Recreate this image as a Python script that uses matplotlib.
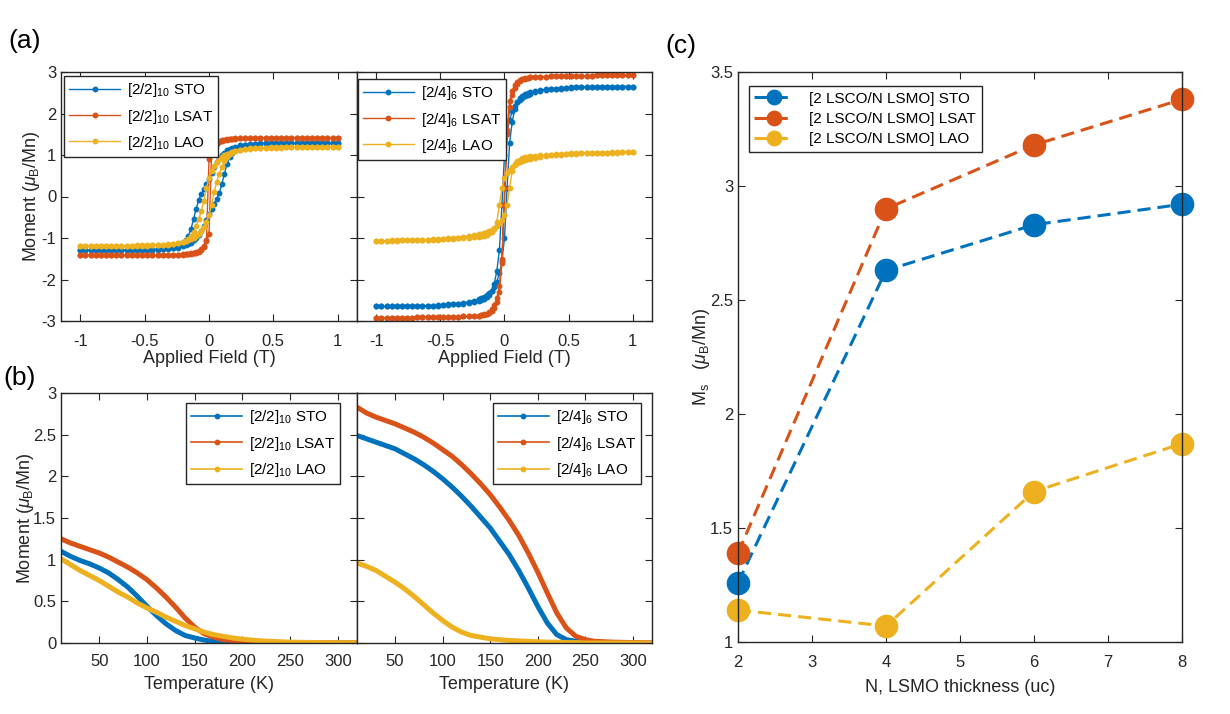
import numpy as np
import matplotlib
matplotlib.use('Agg')
import matplotlib.pyplot as plt
from matplotlib.lines import Line2D
from matplotlib.ticker import FormatStrFormatter

plt.rcParams['font.family'] = ['Liberation Sans', 'DejaVu Sans']
plt.rcParams['mathtext.fontset'] = 'custom'
plt.rcParams['mathtext.rm'] = 'Liberation Sans'
plt.rcParams['mathtext.it'] = 'Liberation Sans:italic'
plt.rcParams['mathtext.default'] = 'regular'
plt.rcParams['axes.unicode_minus'] = False

BLUE, RED, YEL = '#0072BD', '#D95319', '#EDB120'
AX_COL = '#262626'

# ---- (a) hysteresis, ascending branch (descending one is its mirror) ----
H_ASC = [-1.00, -0.96, -0.92, -0.88, -0.84, -0.80, -0.76, -0.72, -0.68, -0.64,
         -0.60, -0.56, -0.52, -0.48, -0.44, -0.40, -0.36, -0.32, -0.28, -0.24,
         -0.20, -0.18, -0.16, -0.14, -0.12, -0.10, -0.08, -0.06, -0.04, -0.02,
         0.00, 0.02, 0.04, 0.06, 0.08, 0.10, 0.12, 0.14, 0.16, 0.18, 0.20,
         0.24, 0.28, 0.32, 0.36, 0.40, 0.44, 0.48, 0.52, 0.56, 0.60,
         0.64, 0.68, 0.72, 0.76, 0.80, 0.84, 0.88, 0.92, 0.96, 1.00]

M22_STO = [-1.30, -1.30, -1.30, -1.30, -1.30, -1.30, -1.30, -1.29, -1.29, -1.29,
           -1.29, -1.29, -1.28, -1.28, -1.28, -1.27, -1.27, -1.26, -1.25, -1.23,
           -1.20, -1.18, -1.15, -1.11, -1.06, -1.00, -0.92, -0.82, -0.70, -0.56,
           -0.42, -0.30, -0.18, -0.06, 0.08, 0.30, 0.55, 0.78, 0.95, 1.06, 1.13,
           1.19, 1.23, 1.25, 1.27, 1.28, 1.28, 1.29, 1.29, 1.29, 1.30,
           1.30, 1.30, 1.30, 1.30, 1.30, 1.30, 1.30, 1.30, 1.30, 1.30]
M22_LSAT = [-1.42, -1.42, -1.42, -1.42, -1.42, -1.42, -1.42, -1.42, -1.42, -1.42,
            -1.42, -1.42, -1.42, -1.42, -1.42, -1.41, -1.41, -1.41, -1.40, -1.40,
            -1.39, -1.39, -1.38, -1.37, -1.36, -1.34, -1.31, -1.27, -1.20, -1.08,
            -0.90, 1.05, 1.22, 1.30, 1.34, 1.36, 1.37, 1.38, 1.39, 1.39, 1.40,
            1.40, 1.41, 1.41, 1.41, 1.42, 1.42, 1.42, 1.42, 1.42, 1.42,
            1.42, 1.42, 1.42, 1.42, 1.42, 1.42, 1.42, 1.42, 1.42, 1.42]
M22_LAO = [-1.20, -1.20, -1.20, -1.20, -1.20, -1.20, -1.20, -1.19, -1.19, -1.19,
           -1.19, -1.18, -1.18, -1.18, -1.17, -1.17, -1.16, -1.15, -1.14, -1.12,
           -1.10, -1.08, -1.06, -1.03, -1.00, -0.96, -0.90, -0.83, -0.74, -0.62,
           -0.45, -0.20, 0.10, 0.35, 0.55, 0.72, 0.85, 0.95, 1.02, 1.07, 1.10,
           1.13, 1.15, 1.16, 1.17, 1.18, 1.18, 1.19, 1.19, 1.19, 1.20,
           1.20, 1.20, 1.20, 1.20, 1.20, 1.20, 1.20, 1.20, 1.20, 1.20]

M24_STO = [-2.65, -2.65, -2.65, -2.65, -2.65, -2.65, -2.65, -2.64, -2.64, -2.64,
           -2.63, -2.63, -2.62, -2.61, -2.60, -2.59, -2.58, -2.56, -2.54, -2.51,
           -2.47, -2.45, -2.42, -2.38, -2.33, -2.27, -2.18, -2.05, -1.85, -1.55,
           -1.00, 0.20, 1.30, 1.80, 2.10, 2.27, 2.37, 2.43, 2.47, 2.50, 2.52,
           2.54, 2.56, 2.58, 2.59, 2.60, 2.61, 2.62, 2.63, 2.63, 2.64,
           2.64, 2.64, 2.65, 2.65, 2.65, 2.65, 2.65, 2.65, 2.65, 2.65]
M24_LSAT = [-2.92, -2.92, -2.92, -2.92, -2.92, -2.92, -2.92, -2.92, -2.91, -2.91,
            -2.91, -2.91, -2.91, -2.90, -2.90, -2.90, -2.90, -2.89, -2.89, -2.88,
            -2.87, -2.86, -2.84, -2.82, -2.78, -2.72, -2.62, -2.45, -2.15, -1.50,
            -0.20, 1.60, 2.30, 2.55, 2.68, 2.75, 2.80, 2.83, 2.85, 2.86, 2.87,
            2.88, 2.89, 2.89, 2.90, 2.90, 2.90, 2.90, 2.91, 2.91, 2.91,
            2.91, 2.91, 2.92, 2.92, 2.92, 2.92, 2.92, 2.92, 2.92, 2.92]
M24_LAO = [-1.07, -1.07, -1.07, -1.06, -1.06, -1.06, -1.05, -1.05, -1.05, -1.04,
           -1.04, -1.03, -1.03, -1.02, -1.01, -1.00, -0.99, -0.97, -0.95, -0.93,
           -0.91, -0.90, -0.88, -0.86, -0.84, -0.81, -0.77, -0.72, -0.64, -0.56,
           -0.45, -0.20, 0.20, 0.62, 0.78, 0.85, 0.89, 0.92, 0.94, 0.96, 0.97,
           0.98, 0.99, 1.00, 1.01, 1.02, 1.03, 1.03, 1.04, 1.04, 1.05,
           1.05, 1.05, 1.06, 1.06, 1.06, 1.07, 1.07, 1.07, 1.07, 1.07]

# ---- (b) moment vs temperature ----
TEMP = [10, 20, 30, 40, 50, 60, 70, 80, 90, 100, 110, 120, 130, 140, 150,
        160, 170, 180, 190, 200, 210, 220, 230, 240, 250, 260, 280, 300, 320]
MT22_STO = [1.10, 1.04, 0.99, 0.95, 0.90, 0.84, 0.76, 0.67, 0.56, 0.44, 0.33, 0.23, 0.15, 0.09, 0.06,
            0.035, 0.02, 0.01, 0.005, 0.003, 0.002, 0.001, 0, 0, 0, 0, 0, 0, 0]
MT22_LSAT = [1.25, 1.20, 1.16, 1.12, 1.08, 1.03, 0.97, 0.91, 0.84, 0.76, 0.66, 0.55, 0.43, 0.30, 0.19,
             0.11, 0.07, 0.04, 0.03, 0.02, 0.015, 0.01, 0.008, 0.006, 0.004, 0.003, 0.002, 0.001, 0]
MT22_LAO = [1.01, 0.94, 0.87, 0.81, 0.75, 0.68, 0.61, 0.55, 0.48, 0.42, 0.37, 0.31, 0.26, 0.21, 0.17,
            0.13, 0.10, 0.08, 0.06, 0.045, 0.035, 0.025, 0.02, 0.015, 0.01, 0.008, 0.005, 0.003, 0.002]
MT24_STO = [2.49, 2.45, 2.41, 2.37, 2.33, 2.27, 2.21, 2.14, 2.06, 1.97, 1.87, 1.76, 1.64, 1.51, 1.38,
            1.22, 1.06, 0.87, 0.66, 0.44, 0.24, 0.10, 0.04, 0.02, 0.01, 0.005, 0.002, 0, 0]
MT24_LSAT = [2.83, 2.76, 2.71, 2.67, 2.63, 2.58, 2.53, 2.47, 2.40, 2.32, 2.24, 2.14, 2.03, 1.91, 1.78,
             1.63, 1.47, 1.29, 1.08, 0.85, 0.60, 0.36, 0.18, 0.08, 0.04, 0.02, 0.01, 0.005, 0]
MT24_LAO = [0.96, 0.92, 0.87, 0.80, 0.73, 0.65, 0.56, 0.46, 0.36, 0.27, 0.19, 0.13, 0.09, 0.07, 0.05,
            0.04, 0.03, 0.025, 0.02, 0.015, 0.01, 0.01, 0.005, 0.005, 0, 0, 0, 0, 0]

# ---- (c) saturation moment vs LSMO thickness ----
N_LSMO = [2, 4, 6, 8]
MS_STO = [1.26, 2.63, 2.83, 2.92]
MS_LSAT = [1.39, 2.90, 3.18, 3.38]
MS_LAO = [1.14, 1.07, 1.66, 1.87]

SUBSTRATES = ['STO', 'LSAT', 'LAO']
COLORS = [BLUE, RED, YEL]


def loop(m):
    # descending branch (+1 -> -1 T) is the point mirror of the ascending one
    h = np.array(H_ASC)
    m = np.array(m)
    return np.concatenate([-h, h]), np.concatenate([-m, m])


def style(ax, xlim, ylim, xticks, yticks, show_y=True, xpad=8.5):
    ax.set_xlim(xlim)
    ax.set_ylim(ylim)
    ax.set_xticks(xticks)
    ax.set_yticks(yticks)
    ax.xaxis.set_major_formatter(FormatStrFormatter('%g'))
    ax.yaxis.set_major_formatter(FormatStrFormatter('%g'))
    ax.tick_params(direction='in', top=True, right=True, length=5, width=0.8,
                   labelsize=12, colors=AX_COL, labelleft=show_y, pad=3.5)
    ax.tick_params(axis='x', pad=xpad)
    for s in ax.spines.values():
        s.set_color(AX_COL)
        s.set_linewidth(1.0)


def legend(ax, handles, labels, loc, anchor, **kw):
    opts = dict(loc=loc, bbox_to_anchor=anchor, borderaxespad=0, fancybox=False,
                framealpha=1, edgecolor=AX_COL, fontsize=11, numpoints=1,
                handlelength=3.3, handletextpad=0.45, labelspacing=0.54, borderpad=0.35)
    opts.update(kw)
    leg = ax.legend(handles, labels, **opts)
    leg.get_frame().set_linewidth(1.0)
    return leg


fig = plt.figure(figsize=(12.3, 7.14), dpi=100)

W_L = 296 / 1230
ax_a1 = fig.add_axes([61 / 1230, 1 - 321 / 714, W_L, 249 / 714])
ax_a2 = fig.add_axes([357 / 1230, 1 - 321 / 714, 295 / 1230, 249 / 714])
ax_b1 = fig.add_axes([61 / 1230, 1 - 643 / 714, W_L, 250 / 714])
ax_b2 = fig.add_axes([357 / 1230, 1 - 643 / 714, 295 / 1230, 250 / 714])
ax_c = fig.add_axes([738 / 1230, 1 - 642 / 714, 444 / 1230, 570 / 714])

ylab = r'Moment ($\mathit{\mu}_B$/Mn)'

# (a)
for ax, series, tag in [(ax_a1, [M22_STO, M22_LSAT, M22_LAO], '[2/2]$_{10}$'),
                        (ax_a2, [M24_STO, M24_LSAT, M24_LAO], '[2/4]$_{6}$')]:
    hs = []
    for m, c in zip(series, COLORS):
        x, y = loop(m)
        ln, = ax.plot(x, y, '-', color=c, lw=1.0, marker='o', ms=3.2, mec=c, mfc=c)
        hs.append(ln)
    style(ax, (-1.15, 1.15), (-3, 3), [-1, -0.5, 0, 0.5, 1], range(-3, 4), show_y=(ax is ax_a1),
          xpad=9.5)
    ax.set_xlabel('Applied Field (T)', fontsize=13, color=AX_COL, labelpad=0.5)
    anchor = (0.010, 0.984) if ax is ax_a1 else (0.003, 0.972)
    legend(ax, hs, [tag + ' ' + s for s in SUBSTRATES], 'upper left', anchor)
ax_a1.set_ylabel(ylab, fontsize=13, color=AX_COL)
ax_a1.yaxis.set_label_coords(-0.064, 0.5)

# (b)
for ax, series, tag in [(ax_b1, [MT22_STO, MT22_LSAT, MT22_LAO], '[2/2]$_{10}$'),
                        (ax_b2, [MT24_STO, MT24_LSAT, MT24_LAO], '[2/4]$_{6}$')]:
    for m, c in zip(series, COLORS):
        ax.plot(TEMP, m, '-', color=c, lw=3.6, solid_capstyle='round')
    hs = [Line2D([], [], color=c, lw=1.2, marker='o', ms=3.2) for c in COLORS]
    style(ax, (10, 320), (0, 3), [50, 100, 150, 200, 250, 300],
          [0, 0.5, 1, 1.5, 2, 2.5, 3], show_y=(ax is ax_b1), xpad=8)
    ax.set_xlabel('Temperature (K)', fontsize=13, color=AX_COL, labelpad=5)
    anchor = (0.943, 0.96) if ax is ax_b1 else (0.963, 0.96)
    legend(ax, hs, [tag + ' ' + s for s in SUBSTRATES], 'upper right', anchor)
ax_b1.set_ylabel(ylab, fontsize=13, color=AX_COL)
ax_b1.yaxis.set_label_coords(-0.086, 0.5)

# (c)
hs = []
for m, c in zip([MS_STO, MS_LSAT, MS_LAO], COLORS):
    ln, = ax_c.plot(N_LSMO, m, color=c, lw=2.2, ls=(0, (4.3, 2.3)), marker='o',
                    ms=16, mec=c, mfc=c, clip_on=False)
    hs.append(ln)
style(ax_c, (2, 8), (1, 3.5), range(2, 9), [1, 1.5, 2, 2.5, 3, 3.5], xpad=9.5)
ax_c.set_xlabel('N, LSMO thickness (uc)', fontsize=13, color=AX_COL, labelpad=6)
ax_c.set_ylabel(r'M$_s$   ($\mathit{\mu}_B$/Mn)', fontsize=13, color=AX_COL)
ax_c.yaxis.set_label_coords(-0.059, 0.5)
legend(ax_c, hs, ['[2 LSCO/N LSMO] ' + s for s in SUBSTRATES], 'upper left', (0.025, 0.975),
       handlelength=2.6, handletextpad=1.0, labelspacing=0.42, markerscale=0.65)

fig.text(8 / 1230, 1 - 41 / 714, '(a)', fontsize=19, ha='left', va='center')
fig.text(3 / 1230, 1 - 378 / 714, '(b)', fontsize=19, ha='left', va='center')
fig.text(665 / 1230, 1 - 46 / 714, '(c)', fontsize=19, ha='left', va='center')

fig.savefig('out.png', dpi=100)
